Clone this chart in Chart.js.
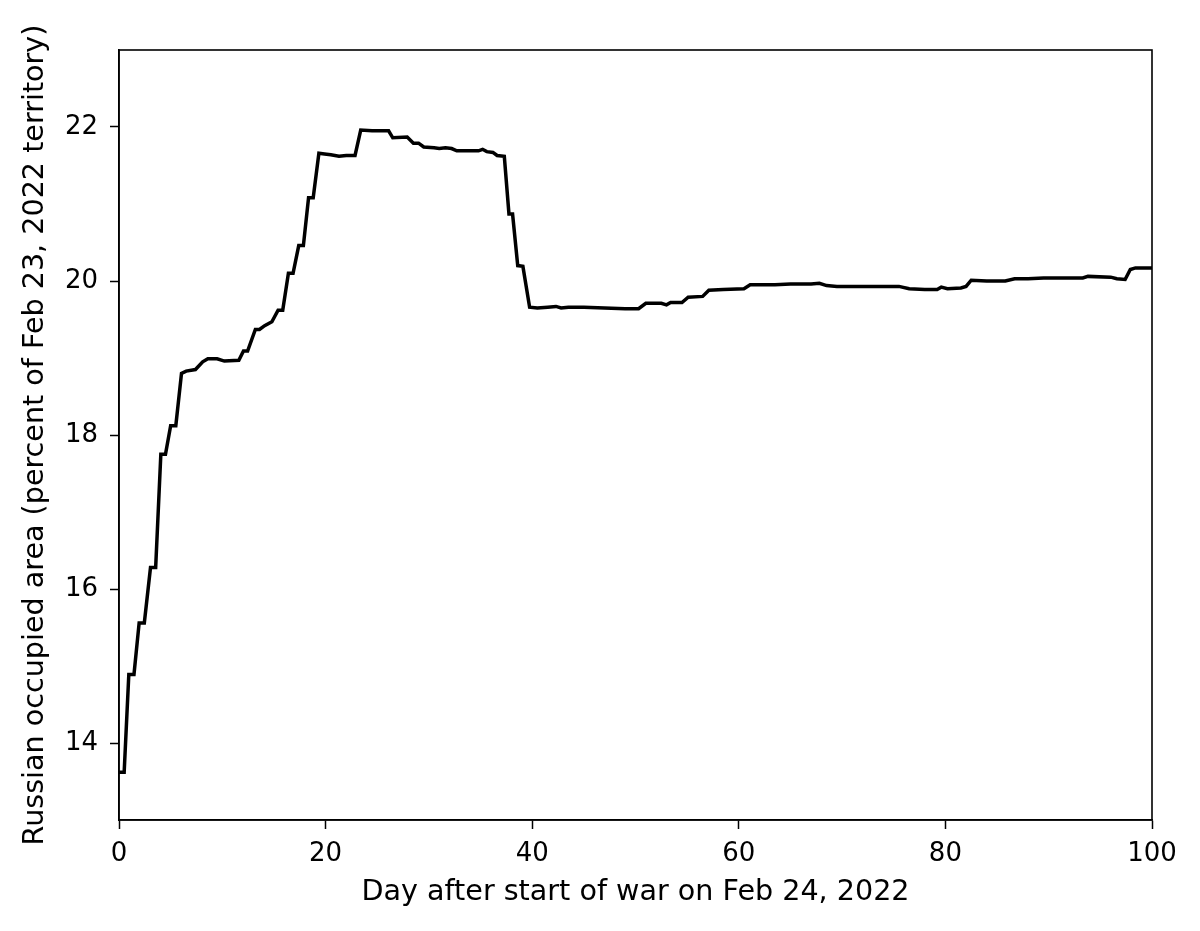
<!DOCTYPE html>
<html>
<head>
<meta charset="utf-8">
<script src="https://cdn.jsdelivr.net/npm/chart.js@4/dist/chart.umd.min.js"></script>
<style>
  html, body { margin: 0; padding: 0; background: #fff; }
  #wrap { width: 1200px; height: 931px; }
</style>
</head>
<body>
<div id="wrap"><canvas id="areaChart" width="1200" height="931"></canvas></div>
<script>
// day after Feb 24, 2022
const days = [
  0, 0.5, 0.95, 1.45, 1.95, 2.45, 3.05, 3.55, 4.05, 4.5,
  5.0, 5.5, 6.05, 6.5, 7.4, 8.1, 8.6, 9.5, 10.2, 11.6,
  12.05, 12.45, 13.2, 13.6, 14.1, 14.8, 15.4, 15.85, 16.4, 16.85,
  17.4, 17.85, 18.35, 18.8, 19.35, 19.9, 20.5, 21.3, 22.0, 22.85,
  23.4, 24.5, 26.1, 26.5, 27.9, 28.5, 29.0, 29.5, 30.5, 31.0,
  31.6, 32.2, 32.7, 34.8, 35.2, 35.6, 36.2, 36.6, 37.3, 37.75,
  38.1, 38.6, 39.1, 39.75, 40.5, 41.5, 42.3, 42.8, 43.5, 45,
  47, 49, 50.3, 51.0, 52.5, 53.0, 53.4, 54.5, 55.1, 56.5,
  57.1, 58.5, 60.5, 61.1, 63.5, 65, 67, 67.8, 68.5, 69.5,
  72, 75.5, 76.5, 78, 79.2, 79.6, 80.2, 81.5, 82, 82.5,
  84, 85.8, 86.7, 88, 89.5, 93.3, 93.8, 96, 96.6, 97.4,
  97.9, 98.4, 100
];

// Russian occupied area, percent of Feb 23, 2022 territory
const occupied = [
  13.62, 13.62, 14.89, 14.89, 15.56, 15.56, 16.28, 16.28, 17.75, 17.75,
  18.12, 18.12, 18.80, 18.83, 18.85, 18.95, 18.99, 18.99, 18.96, 18.97,
  19.09, 19.09, 19.37, 19.37, 19.42, 19.47, 19.62, 19.62, 20.10, 20.10,
  20.46, 20.46, 21.08, 21.08, 21.66, 21.65, 21.64, 21.62, 21.63, 21.63,
  21.96, 21.95, 21.95, 21.86, 21.87, 21.79, 21.79, 21.74, 21.73, 21.72,
  21.73, 21.72, 21.69, 21.69, 21.71, 21.68, 21.67, 21.63, 21.62, 20.87,
  20.87, 20.20, 20.19, 19.66, 19.65, 19.66, 19.67, 19.65, 19.66, 19.66,
  19.65, 19.64, 19.64, 19.71, 19.71, 19.69, 19.72, 19.72, 19.79, 19.80,
  19.88, 19.89, 19.90, 19.95, 19.95, 19.96, 19.96, 19.97, 19.94, 19.93,
  19.93, 19.93, 19.90, 19.89, 19.89, 19.92, 19.90, 19.91, 19.93, 20.01,
  20.00, 20.00, 20.03, 20.03, 20.04, 20.04, 20.06, 20.05, 20.03, 20.02,
  20.15, 20.17, 20.17
];

const xTicks = [0, 20, 40, 60, 80, 100];
const yTicks = [14, 16, 18, 20, 22];

const points = days.map((d, i) => ({ x: d, y: occupied[i] }));

const tickFont = { family: "'DejaVu Sans', sans-serif", size: 26 };
const titleFont = { family: "'DejaVu Sans', sans-serif", size: 28.6 };

// matplotlib style box round the plot
const frame = {
  id: "frame",
  afterDraw(chart) {
    const { ctx, chartArea } = chart;
    ctx.save();
    ctx.strokeStyle = "#000";
    ctx.lineWidth = 1.6;
    ctx.strokeRect(chartArea.left, chartArea.top, chartArea.right - chartArea.left, chartArea.bottom - chartArea.top);
    ctx.restore();
  },
};

new Chart(document.getElementById("areaChart"), {
  type: "line",
  data: {
    datasets: [
      {
        data: points,
        borderColor: "#000",
        borderWidth: 3.5,
        pointRadius: 0,
        tension: 0,
        fill: false,
      },
    ],
  },
  options: {
    responsive: false,
    animation: false,
    layout: { padding: { top: 50, right: 48, left: 0, bottom: 0 } },
    plugins: { legend: { display: false }, tooltip: { enabled: false } },
    scales: {
      x: {
        type: "linear",
        min: 0,
        max: 100,
        afterBuildTicks: (scale) => { scale.ticks = xTicks.map((v) => ({ value: v })); },
        afterFit: (scale) => { scale.height = 111; },
        grid: { drawOnChartArea: false, drawTicks: true, tickLength: 9, tickWidth: 1.5, tickColor: "#000" },
        border: { color: "#000", width: 1.6 },
        ticks: { color: "#000", font: tickFont, padding: 10, maxRotation: 0 },
        title: {
          display: true,
          text: "Day after start of war on Feb 24, 2022",
          color: "#000",
          font: titleFont,
          padding: { top: 0, bottom: 21 },
        },
      },
      y: {
        type: "linear",
        min: 13,
        max: 23,
        afterBuildTicks: (scale) => { scale.ticks = yTicks.map((v) => ({ value: v })); },
        afterFit: (scale) => { scale.width = 119; },
        grid: { drawOnChartArea: false, drawTicks: true, tickLength: 9, tickWidth: 1.5, tickColor: "#000" },
        border: { color: "#000", width: 1.6 },
        ticks: { color: "#000", font: tickFont, padding: 12 },
        title: {
          display: true,
          text: "Russian occupied area (percent of Feb 23, 2022 territory)",
          color: "#000",
          font: titleFont,
          padding: { top: 18, bottom: 0 },
        },
      },
    },
  },
  plugins: [frame],
});
</script>
</body>
</html>
